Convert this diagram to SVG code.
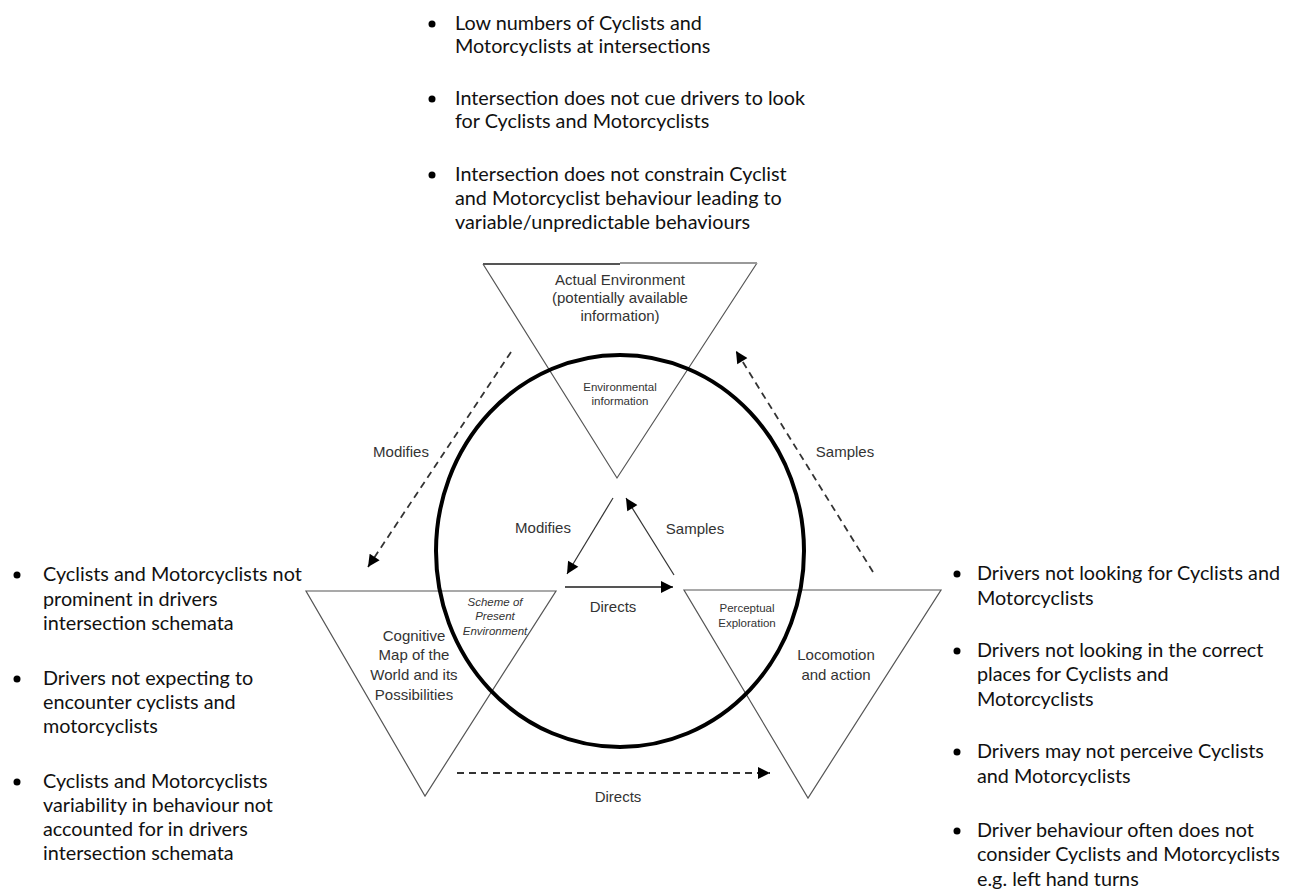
<svg xmlns="http://www.w3.org/2000/svg" width="1291" height="892" viewBox="0 0 1291 892">
<style>
.bt{font-family:Lato,"Liberation Sans",sans-serif;font-size:19.8px;fill:#111}
.lb{font-family:"Liberation Sans",Arial,sans-serif;fill:#333;text-anchor:middle}
.l14{font-size:15px}
.l11{font-size:11.5px}
.it{font-style:italic}
.tri{fill:none;stroke:#555;stroke-width:1.2}
.dash{fill:none;stroke:#333;stroke-width:1.8;stroke-dasharray:7,5}
.solid{fill:none;stroke:#333;stroke-width:1.2}
</style>
<defs>
<marker id="ah" viewBox="0 0 10 10" refX="10" refY="5" markerWidth="16" markerHeight="12" markerUnits="userSpaceOnUse" orient="auto">
<path d="M0,0 L10,5 L0,10 z" fill="#000"/>
</marker>
</defs>
<rect width="1291" height="892" fill="#fff"/>

<g id="top-bullets">
<circle cx="432" cy="24" r="3.5" fill="#000"/>
<circle cx="432" cy="99" r="3.5" fill="#000"/>
<circle cx="432" cy="175" r="3.5" fill="#000"/>
<text class="bt" x="455" y="30">Low numbers of Cyclists and</text>
<text class="bt" x="455" y="53">Motorcyclists at intersections</text>
<text class="bt" x="455" y="105">Intersection does not cue drivers to look</text>
<text class="bt" x="455" y="128">for Cyclists and Motorcyclists</text>
<text class="bt" x="455" y="181">Intersection does not constrain Cyclist</text>
<text class="bt" x="455" y="205">and Motorcyclist behaviour leading to</text>
<text class="bt" x="455" y="229">variable/unpredictable behaviours</text>
</g>

<g id="left-bullets">
<circle cx="17" cy="575" r="3.5" fill="#000"/>
<circle cx="17" cy="679" r="3.5" fill="#000"/>
<circle cx="17" cy="782" r="3.5" fill="#000"/>
<text class="bt" x="43" y="581">Cyclists and Motorcyclists not</text>
<text class="bt" x="43" y="606">prominent in drivers</text>
<text class="bt" x="43" y="630">intersection schemata</text>
<text class="bt" x="43" y="685">Drivers not expecting to</text>
<text class="bt" x="43" y="709">encounter cyclists and</text>
<text class="bt" x="43" y="733">motorcyclists</text>
<text class="bt" x="43" y="788">Cyclists and Motorcyclists</text>
<text class="bt" x="43" y="812">variability in behaviour not</text>
<text class="bt" x="43" y="836">accounted for in drivers</text>
<text class="bt" x="43" y="860">intersection schemata</text>
</g>

<g id="right-bullets">
<circle cx="957" cy="574" r="3.5" fill="#000"/>
<circle cx="957" cy="651" r="3.5" fill="#000"/>
<circle cx="957" cy="752" r="3.5" fill="#000"/>
<circle cx="957" cy="831" r="3.5" fill="#000"/>
<text class="bt" x="977" y="580">Drivers not looking for Cyclists and</text>
<text class="bt" x="977" y="605">Motorcyclists</text>
<text class="bt" x="977" y="657">Drivers not looking in the correct</text>
<text class="bt" x="977" y="681">places for Cyclists and</text>
<text class="bt" x="977" y="706">Motorcyclists</text>
<text class="bt" x="977" y="758">Drivers may not perceive Cyclists</text>
<text class="bt" x="977" y="783">and Motorcyclists</text>
<text class="bt" x="977" y="837">Driver behaviour often does not</text>
<text class="bt" x="977" y="861">consider Cyclists and Motorcyclists</text>
<text class="bt" x="977" y="886">e.g. left hand turns</text>
</g>

<g id="actual-environment">
<path class="tri" d="M483,264 L617,478 L757,263"/>
<line x1="483" y1="264" x2="620" y2="264" stroke="#555" stroke-width="2"/>
<line x1="620" y1="263" x2="757" y2="263" stroke="#999" stroke-width="2"/>
<text class="lb l14" x="620" y="285">Actual Environment</text>
<text class="lb l14" x="620" y="303">(potentially available</text>
<text class="lb l14" x="620" y="321">information)</text>
<text class="lb l11" x="620" y="391">Environmental</text>
<text class="lb l11" x="620" y="405">information</text>
</g>

<g id="cognitive-map">
<path class="tri" d="M306,591 L556,591 L425,796 Z"/>
<text class="lb l11 it" x="495" y="606">Scheme of</text>
<text class="lb l11 it" x="495" y="620">Present</text>
<text class="lb l11 it" x="495" y="635">Environment</text>
<text class="lb l14" x="414" y="641">Cognitive</text>
<text class="lb l14" x="414" y="660">Map of the</text>
<text class="lb l14" x="414" y="680">World and its</text>
<text class="lb l14" x="414" y="700">Possibilities</text>
</g>

<g id="locomotion">
<path class="tri" d="M684,590 L941,590 L808,798 Z"/>
<text class="lb l11" x="747" y="612">Perceptual</text>
<text class="lb l11" x="747" y="627">Exploration</text>
<text class="lb l14" x="836" y="660">Locomotion</text>
<text class="lb l14" x="836" y="680">and action</text>
</g>

<g id="cycle">
<ellipse cx="620" cy="551" rx="184" ry="196" fill="none" stroke="#000" stroke-width="4"/>
</g>

<g id="connectors">
<line class="dash" x1="511" y1="352" x2="368" y2="567" marker-end="url(#ah)"/>
<line class="dash" x1="873" y1="572" x2="736" y2="351" marker-end="url(#ah)"/>
<line class="dash" x1="457" y1="773" x2="770" y2="773" stroke-dasharray="10,6" marker-end="url(#ah)"/>
<line class="solid" x1="613" y1="498" x2="567" y2="574" marker-end="url(#ah)"/>
<line class="solid" x1="674" y1="575" x2="626" y2="498" marker-end="url(#ah)"/>
<line x1="565" y1="587" x2="673" y2="587" stroke="#555" stroke-width="2.2" marker-end="url(#ah)"/>
<text class="lb l14" x="401" y="457">Modifies</text>
<text class="lb l14" x="845" y="457">Samples</text>
<text class="lb l14" x="543" y="533">Modifies</text>
<text class="lb l14" x="695" y="534">Samples</text>
<text class="lb l14" x="613" y="612">Directs</text>
<text class="lb l14" x="618" y="802">Directs</text>
</g>
</svg>
